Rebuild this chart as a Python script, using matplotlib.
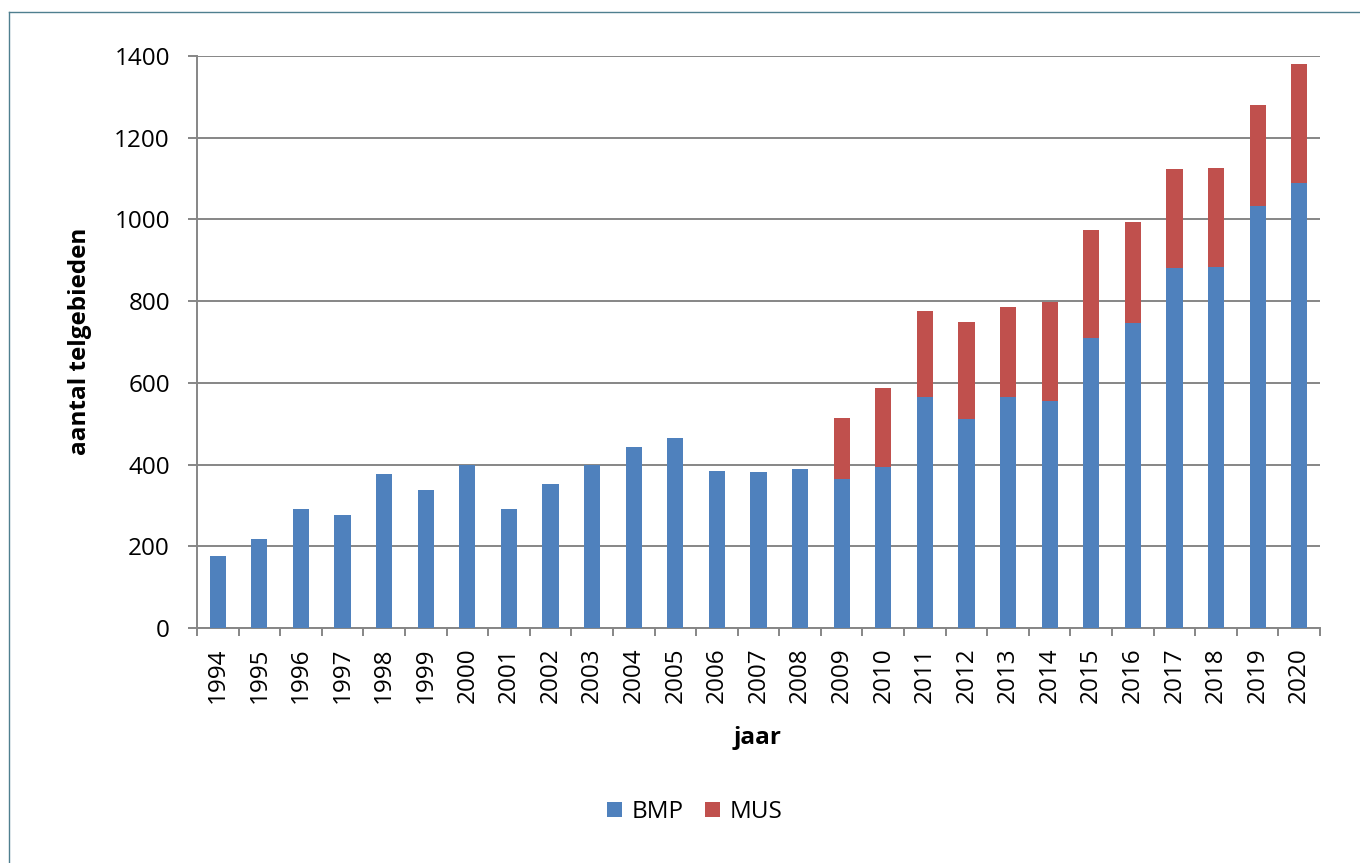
import matplotlib
matplotlib.use('Agg')
import matplotlib.pyplot as plt
from matplotlib.lines import Line2D
import numpy as np

# ---------------------------------------------------------
# data
# ---------------------------------------------------------
years = [1994, 1995, 1996, 1997, 1998, 1999, 2000, 2001, 2002, 2003,
         2004, 2005, 2006, 2007, 2008, 2009, 2010, 2011, 2012, 2013,
         2014, 2015, 2016, 2017, 2018, 2019, 2020]
bmp = [176, 219, 292, 277, 377, 338, 398, 292, 353, 400,
       443, 466, 385, 382, 390, 365, 393, 565, 512, 565,
       556, 709, 747, 880, 883, 1032, 1089]
mus = [0, 0, 0, 0, 0, 0, 0, 0, 0, 0,
       0, 0, 0, 0, 0, 148, 195, 211, 238, 220,
       243, 264, 246, 243, 244, 248, 291]

series_names = ['BMP', 'MUS']
ylabel = 'aantal telgebieden'
xlabel = 'jaar'

# ---------------------------------------------------------
# style
# ---------------------------------------------------------
plt.rcParams['font.family'] = ['Open Sans', 'DejaVu Sans']
blue = '#4F81BD'
red = '#C0504D'
grey = '#868686'

W, H = 1360, 863
fig = plt.figure(figsize=(W / 100, H / 100), dpi=100)
ax = fig.add_axes([197 / W, 1 - 628 / H, (1320 - 197) / W, (628 - 56) / H])

x = np.arange(len(years))
ax.bar(x, bmp, width=0.39, color=blue, label=series_names[0], zorder=3)
ax.bar(x, mus, width=0.39, bottom=bmp, color=red, label=series_names[1], zorder=3)

ax.set_xlim(-0.5, len(years) - 0.5)
ax.set_ylim(0, 1400)
ax.set_yticks(np.arange(0, 1401, 200))
ax.yaxis.grid(True, color=grey, linewidth=1.4, zorder=0)
ax.set_axisbelow(True)

ax.set_xticks(x)
ax.set_xticklabels([str(y) for y in years], rotation=90, fontsize=17.5)
ax.set_xticks(np.arange(-0.5, len(years), 1), minor=True)
ax.tick_params(axis='x', which='major', length=0, pad=14)
ax.tick_params(axis='x', which='minor', length=6, width=1.4, color=grey, direction='out')
ax.tick_params(axis='y', length=6.5, width=1.4, color=grey, pad=13, labelsize=17.5)

for s in ['top', 'right']:
    ax.spines[s].set_visible(False)
for s in ['left', 'bottom']:
    ax.spines[s].set_color(grey)
    ax.spines[s].set_linewidth(1.4)

fig.text(80 / W, 1 - 341 / H, ylabel, rotation=90, ha='center', va='center',
         fontsize=17.5, fontweight='bold')
fig.text(758 / W, 1 - 738 / H, xlabel, ha='center', va='center',
         fontsize=17.5, fontweight='bold')

fig.legend(loc='center', bbox_to_anchor=(695 / W, 1 - 812 / H), ncol=2,
           frameon=False, fontsize=17.5, handlelength=0.6, handleheight=0.6,
           handletextpad=0.4, columnspacing=0.9)

# outer frame (only top and left edges are visible in the reference)
fig.add_artist(Line2D([9 / W, 9 / W], [0, 1 - 12 / H], transform=fig.transFigure,
                      color='#4f7f8f', linewidth=1))
fig.add_artist(Line2D([9 / W, 1], [1 - 12 / H, 1 - 12 / H], transform=fig.transFigure,
                      color='#4f7f8f', linewidth=1))

fig.savefig('out.png', dpi=100)
